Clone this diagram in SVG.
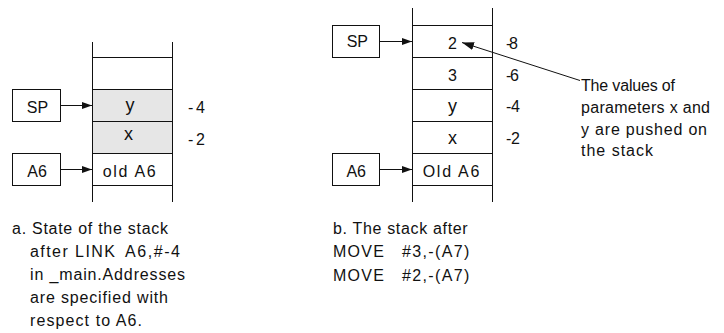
<svg xmlns="http://www.w3.org/2000/svg" width="724" height="333" viewBox="0 0 724 333">
  <style>
    text { font-family: "Liberation Sans", Arial, sans-serif; font-size: 16px; fill: #111; }
    .cell { font-size: 18px; text-anchor: middle; }
    .mid { text-anchor: middle; }
    .box { fill: #fff; stroke: #111; stroke-width: 1; }
    .grid { stroke: #111; stroke-width: 1; fill: none; }
    .shade { fill: #e6e6e6; }
    .conn { stroke: #111; stroke-width: 1; fill: none; }
  </style>
  <defs>
    <marker id="head" markerUnits="userSpaceOnUse" markerWidth="10" markerHeight="8" refX="10" refY="3.5" orient="auto">
      <path d="M0,0 L10,3.5 L0,7 z" fill="#111"/>
    </marker>
    <marker id="headLarge" markerUnits="userSpaceOnUse" markerWidth="13" markerHeight="9" refX="12" refY="4" orient="auto">
      <path d="M0,0 L12,4 L0,8 z" fill="#111"/>
    </marker>
  </defs>

  <!-- (a) stack after LINK -->
  <g id="stack-a">
    <rect class="shade" x="92.5" y="89.5" width="80" height="64"/>
    <path class="grid" d="M92.5,42 V202 M172.5,42 V202 M92.5,57.5 H172.5 M92.5,89.5 H172.5 M92.5,121.5 H172.5 M92.5,153.5 H172.5 M92.5,185.5 H172.5"/>
    <text class="cell" x="130" y="111">y</text>
    <text class="cell" x="128.5" y="140">x</text>
    <text x="102.7" y="176.7" textLength="53" lengthAdjust="spacing">old A6</text>
    <text x="188" y="113" textLength="17" lengthAdjust="spacing">-4</text>
    <text x="188" y="145" textLength="17" lengthAdjust="spacing">-2</text>
  </g>
  <g id="sp-a">
    <rect class="box" x="12.5" y="89.5" width="48" height="32"/>
    <text class="mid" x="37.5" y="112.7">SP</text>
  </g>
  <g id="a6-a">
    <rect class="box" x="12.5" y="153.5" width="48" height="32"/>
    <text class="mid" x="37" y="176.7">A6</text>
  </g>

  <!-- (b) stack after the two MOVEs -->
  <g id="stack-b">
    <path class="grid" d="M412.5,8 V202 M492.5,8 V202 M412.5,25.5 H492.5 M412.5,57.5 H492.5 M412.5,89.5 H492.5 M412.5,121.5 H492.5 M412.5,153.5 H492.5 M412.5,185.5 H492.5"/>
    <text class="mid" x="452.5" y="49.3">2</text>
    <text class="mid" x="452.5" y="81">3</text>
    <text class="cell" x="452.5" y="112">y</text>
    <text class="cell" x="452.5" y="144">x</text>
    <text x="422.7" y="176.7" textLength="56.6" lengthAdjust="spacing">Old A6</text>
    <text x="506" y="49" textLength="12" lengthAdjust="spacing">-8</text>
    <text x="506" y="81" textLength="13" lengthAdjust="spacing">-6</text>
    <text x="506" y="112" textLength="14" lengthAdjust="spacing">-4</text>
    <text x="506" y="144" textLength="14" lengthAdjust="spacing">-2</text>
  </g>
  <g id="sp-b">
    <rect class="box" x="332.5" y="25.5" width="47" height="32"/>
    <text class="mid" x="357.3" y="46.7">SP</text>
  </g>
  <g id="a6-b">
    <rect class="box" x="332.5" y="153.5" width="47" height="32"/>
    <text class="mid" x="356.2" y="176.7">A6</text>
  </g>

  <!-- note on the pushed parameters -->
  <g id="note">
    <text x="581" y="90.5" textLength="94" lengthAdjust="spacing">The values of</text>
    <text x="581" y="112.5" textLength="129" lengthAdjust="spacing">parameters x and</text>
    <text x="581" y="134.5" textLength="126" lengthAdjust="spacing">y are pushed on</text>
    <text x="581" y="156" textLength="72" lengthAdjust="spacing">the stack</text>
  </g>

  <!-- pointers and the note leader -->
  <g id="connectors">
    <line class="conn" x1="60.5" y1="105.5" x2="92" y2="105.5" marker-end="url(#head)"/>
    <line class="conn" x1="60.5" y1="169.5" x2="92" y2="169.5" marker-end="url(#head)"/>
    <line class="conn" x1="379.5" y1="41.5" x2="412" y2="41.5" marker-end="url(#head)"/>
    <line class="conn" x1="379.5" y1="169.5" x2="412" y2="169.5" marker-end="url(#head)"/>
    <line class="conn" x1="580" y1="80.5" x2="462" y2="42.5" marker-end="url(#headLarge)"/>
  </g>

  <!-- captions -->
  <g id="caption-a">
    <text x="12" y="234" textLength="156" lengthAdjust="spacing">a. State of the stack</text>
    <text x="30" y="257" textLength="85" lengthAdjust="spacing">after LINK</text>
    <text x="125" y="257" textLength="55" lengthAdjust="spacing">A6,#-4</text>
    <text x="30" y="280" textLength="155" lengthAdjust="spacing">in _main.Addresses</text>
    <text x="30" y="303" textLength="138" lengthAdjust="spacing">are specified with</text>
    <text x="30" y="326" textLength="112" lengthAdjust="spacing">respect to A6.</text>
  </g>
  <g id="caption-b">
    <text x="333" y="234" textLength="134.7" lengthAdjust="spacing">b. The stack after</text>
    <text x="333" y="257" textLength="51" lengthAdjust="spacing">MOVE</text>
    <text x="402" y="257" textLength="67.3" lengthAdjust="spacing">#3,-(A7)</text>
    <text x="333" y="281" textLength="51" lengthAdjust="spacing">MOVE</text>
    <text x="402" y="281" textLength="67.3" lengthAdjust="spacing">#2,-(A7)</text>
  </g>
</svg>
